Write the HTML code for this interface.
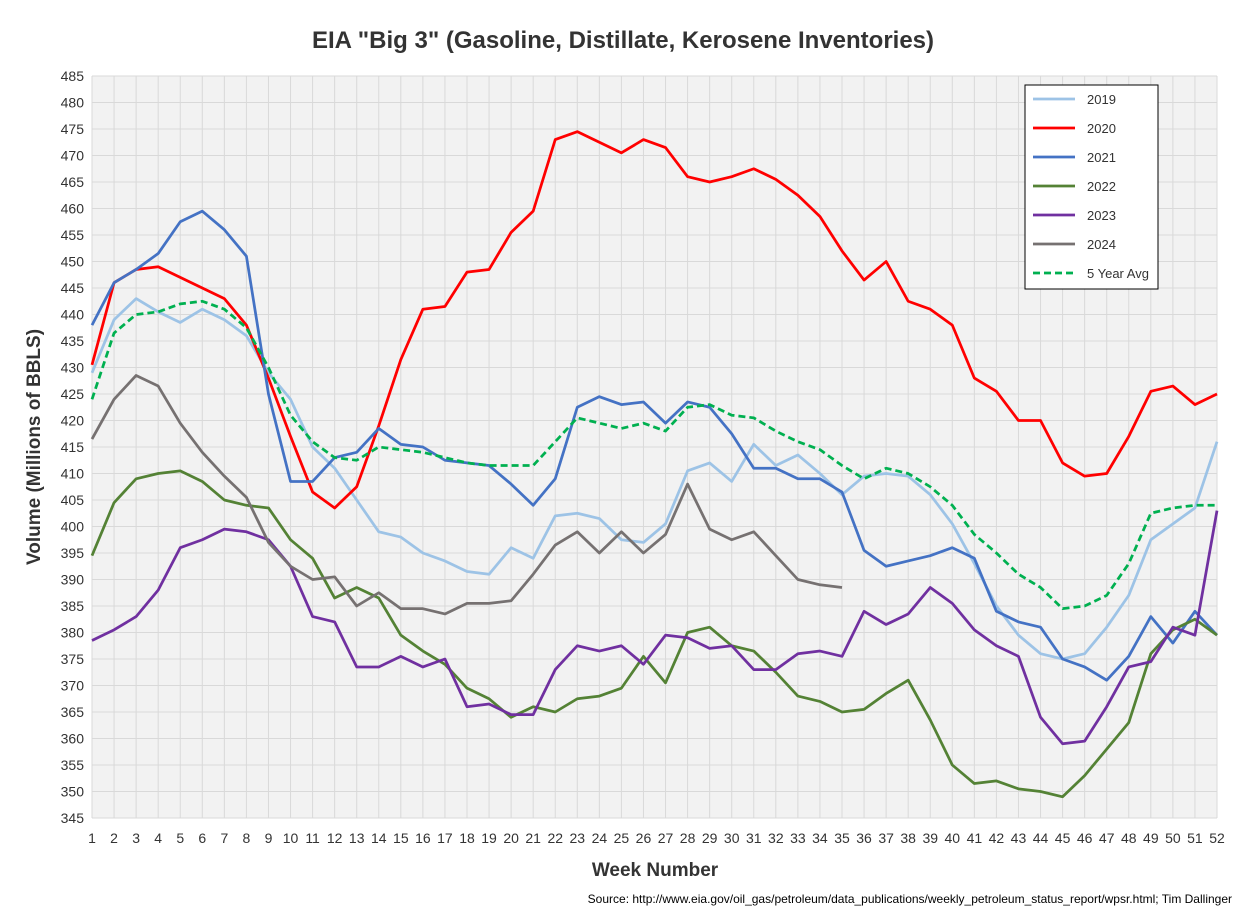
<!DOCTYPE html>
<html><head><meta charset="utf-8"><style>
body{margin:0;background:#fff;font-family:"Liberation Sans",Arial,sans-serif}
svg text{font-family:"Liberation Sans",Arial,sans-serif}
</style></head><body>
<svg id="chart" width="1252" height="919" xmlns="http://www.w3.org/2000/svg">
<rect width="1252" height="919" fill="#fff"/>
<text x="623" y="48" text-anchor="middle" font-size="24" font-weight="bold" fill="#333">EIA "Big 3" (Gasoline, Distillate, Kerosene Inventories)</text>
<rect x="92" y="76" width="1125" height="742" fill="#f2f2f2"/>
<g id="grid"></g><g id="ticks"></g><g id="series"></g>
<text x="655" y="876" text-anchor="middle" font-size="19" font-weight="bold" fill="#333">Week Number</text>
<text transform="translate(40,447) rotate(-90)" text-anchor="middle" font-size="19" font-weight="bold" fill="#333">Volume (Millions of BBLS)</text>
<text x="1232" y="903" text-anchor="end" font-size="12" fill="#000">Source: http://www.eia.gov/oil_gas/petroleum/data_publications/weekly_petroleum_status_report/wpsr.html; Tim Dallinger</text>
<g id="legend"></g>
</svg>
<script>
const weeks=Array.from({length:52},(_,i)=>i+1);
const yTicks=[345,350,355,360,365,370,375,380,385,390,395,400,405,410,415,420,425,430,435,440,445,450,455,460,465,470,475,480,485];
const seriesNames=["2019","2020","2021","2022","2023","2024","5 Year Avg"];
const seriesColors=["#9dc3e6","#ff0000","#4472c4","#548235","#7030a0","#767171","#00b050"];
const v2019=[429,439,443,440.5,438.5,441,439,436,429,424,415,411,405,399,398,395,393.5,391.5,391,396,394,402,402.5,401.5,397.5,397,400.5,410.5,412,408.5,415.5,411.5,413.5,410,406,409.5,410,409.5,406,400.5,393,385,379.5,376,375,376,381,387,397.5,400.5,403.5,416];
const v2020=[430.5,446,448.5,449,447,445,443,438,428,417,406.5,403.5,407.5,419,431.5,441,441.5,448,448.5,455.5,459.5,473,474.5,472.5,470.5,473,471.5,466,465,466,467.5,465.5,462.5,458.5,452,446.5,450,442.5,441,438,428,425.5,420,420,412,409.5,410,417,425.5,426.5,423,425];
const v2021=[438,446,448.5,451.5,457.5,459.5,456,451,425,408.5,408.5,413,414,418.5,415.5,415,412.5,412,411.5,408,404,409,422.5,424.5,423,423.5,419.5,423.5,422.5,417.5,411,411,409,409,406.5,395.5,392.5,393.5,394.5,396,394,384,382,381,375,373.5,371,375.5,383,378,384,379.5];
const v2022=[394.5,404.5,409,410,410.5,408.5,405,404,403.5,397.5,394,386.5,388.5,386.5,379.5,376.5,374,369.5,367.5,364,366,365,367.5,368,369.5,375.5,370.5,380,381,377.5,376.5,372.5,368,367,365,365.5,368.5,371,363.5,355,351.5,352,350.5,350,349,353,358,363,376,380.5,382.5,379.5];
const v2023=[378.5,380.5,383,388,396,397.5,399.5,399,397.5,392.5,383,382,373.5,373.5,375.5,373.5,375,366,366.5,364.5,364.5,373,377.5,376.5,377.5,374,379.5,379,377,377.5,373,373,376,376.5,375.5,384,381.5,383.5,388.5,385.5,380.5,377.5,375.5,364,359,359.5,366,373.5,374.5,381,379.5,403];
const v2024=[416.5,424,428.5,426.5,419.5,414,409.5,405.5,397,392.5,390,390.5,385,387.5,384.5,384.5,383.5,385.5,385.5,386,391,396.5,399,395,399,395,398.5,408,399.5,397.5,399,394.5,390,389,388.5];
const vAvg=[424,436.5,440,440.5,442,442.5,441,437.5,430,421,416,413,412.5,415,414.5,414,413,412,411.5,411.5,411.5,416,420.5,419.5,418.5,419.5,418,422.5,423,421,420.5,418,416,414.5,411.5,409,411,410,407.5,404,398.5,395,391,388.5,384.5,385,387,393,402.5,403.5,404,404];
const allSeries=[v2019,v2020,v2021,v2022,v2023,v2024,vAvg];
const X0=92,X1=1217,Y0=818,Y1=76,vmin=345,vmax=485;
const xs=w=>X0+(w-1)*(X1-X0)/51;
const ys=v=>Y0-(v-vmin)*(Y0-Y1)/(vmax-vmin);
const NS="http://www.w3.org/2000/svg";
function mk(t,a,p){const e=document.createElementNS(NS,t);for(const k in a)e.setAttribute(k,a[k]);p.appendChild(e);return e;}
const grid=document.getElementById('grid'),ticks=document.getElementById('ticks'),ser=document.getElementById('series'),leg=document.getElementById('legend');
yTicks.forEach(t=>{
 const l=mk('line',{x1:X0,x2:X1,y1:ys(t),y2:ys(t),stroke:'#d9d9d9','stroke-width':1},grid);
 
 
 const tx=mk('text',{x:X0-8,y:ys(t)+5,'text-anchor':'end','font-size':14,fill:'#333'},ticks);
 
 
 tx.textContent=t;
});
weeks.forEach(w=>{
 const l=mk('line',{x1:xs(w),x2:xs(w),y1:Y1,y2:Y0,stroke:'#d9d9d9','stroke-width':1},grid);
 
 
 const tx=mk('text',{x:xs(w),y:Y0+25,'text-anchor':'middle','font-size':14,fill:'#333'},ticks);
 
 
 tx.textContent=w;
});
allSeries.forEach((arr,i)=>{
 const pts=arr.map((v,j)=>xs(weeks[j])+','+ys(v)).join(' ');
 const a={points:pts,fill:'none',stroke:seriesColors[i],'stroke-width':2.75,'stroke-linejoin':'round'};
 if(i===6)a['stroke-dasharray']='7,4';
 const p=mk('polyline',a,ser);
 
 
});
const lb=mk('rect',{x:1025,y:85,width:133,height:204,fill:'#fff',stroke:'#000','stroke-width':1},leg);


seriesNames.forEach((n,i)=>{
 const y=99+i*29;
 const a={x1:1033,x2:1075,y1:y,y2:y,stroke:seriesColors[i],'stroke-width':2.75};
 if(i===6)a['stroke-dasharray']='7,4';
 const l=mk('line',a,leg);
 
 
 const t=mk('text',{x:1087,y:y+5,'font-size':13,fill:'#333'},leg);
 
 
 t.textContent=n;
});
</script>
</body></html>
